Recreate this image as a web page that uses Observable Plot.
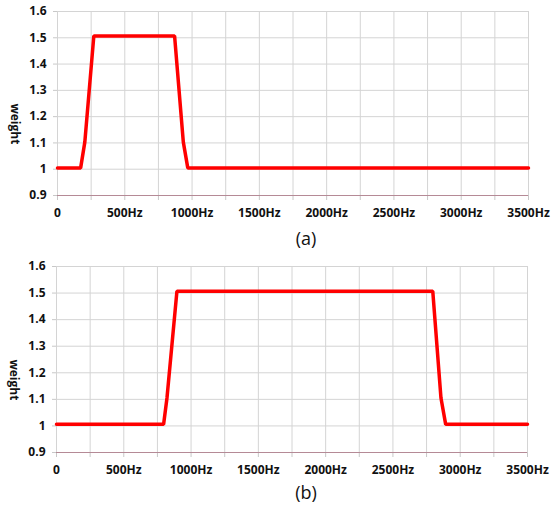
<!DOCTYPE html>
<html>
<head>
<meta charset="utf-8">
<script src="https://cdn.jsdelivr.net/npm/d3@7"></script>
<script src="https://cdn.jsdelivr.net/npm/@observablehq/plot@0.6"></script>
<style>
  html, body { margin: 0; padding: 0; background: #fff; }
  #root { position: relative; width: 556px; height: 507px; font-family: "Open Sans", sans-serif; }
  .panel { position: absolute; left: 0; }
  .cap { position: absolute; font-size: 18px; color: #111; transform: translate(-50%, -50%); }
</style>
</head>
<body>
<div id="root"></div>
<script>
// ---- data ----
const xTicks = [0, 500, 1000, 1500, 2000, 2500, 3000, 3500];
const xTickLabels = ["0", "500Hz", "1000Hz", "1500Hz", "2000Hz", "2500Hz", "3000Hz", "3500Hz"];
const xMinorStep = 250;
const yTicks = [0.9, 1.0, 1.1, 1.2, 1.3, 1.4, 1.5, 1.6];
const yTickLabels = ["0.9", "1", "1.1", "1.2", "1.3", "1.4", "1.5", "1.6"];
const yLabel = "weight";

const aFreq   = [0, 172, 203, 270, 870, 935, 968, 3500];
const aWeight = [1.005, 1.005, 1.103, 1.507, 1.507, 1.103, 1.005, 1.005];

const bFreq   = [0, 796, 821, 895, 2796, 2857, 2892, 3500];
const bWeight = [1.006, 1.006, 1.105, 1.507, 1.507, 1.105, 1.006, 1.006];

const captions = ["(a)", "(b)"];

// ---- drawing ----
const root = document.getElementById("root");
const xDomain = [xTicks[0], xTicks[xTicks.length - 1]];
const yDomain = [yTicks[0], yTicks[yTicks.length - 1]];
const gridX = d3.range(xDomain[0], xDomain[1] + 1, xMinorStep);
const labelMap = new Map(xTicks.map((t, i) => [t, xTickLabels[i]]));
const yLabelMap = new Map(yTicks.map((t, i) => [Math.round(t * 10), yTickLabels[i]]));

function panel(freq, weight, opts) {
  const data = freq.map((f, i) => ({f, w: weight[i]}));
  const svg = Plot.plot({
    width: 556,
    height: 225,
    marginTop: opts.mt,
    marginBottom: opts.mb,
    marginLeft: opts.ml,
    marginRight: opts.mr,
    style: {fontFamily: "'Open Sans', sans-serif", fontSize: "12px", fontWeight: "bold", color: "#111", background: "#fff", overflow: "visible"},
    x: {domain: xDomain},
    y: {domain: yDomain},
    marks: [
      Plot.gridX(gridX, {stroke: "#d4d4d4", strokeOpacity: 1, strokeWidth: 1}),
      Plot.gridY(yTicks, {stroke: "#d4d4d4", strokeOpacity: 1, strokeWidth: 1}),
      Plot.axisX(gridX, {tickSize: 5, tickPadding: 8, stroke: "#c8c8c8", fill: "#111", fontSize: 12,
        tickFormat: d => labelMap.has(d) ? labelMap.get(d) : "", label: null}),
      Plot.axisY(yTicks, {tickSize: 4, tickPadding: 7, stroke: "#c8c8c8", fill: "#111", fontSize: 12,
        tickFormat: d => yLabelMap.get(Math.round(d * 10)), label: null}),
      Plot.ruleY([yDomain[0]], {stroke: "#b58a96", strokeWidth: 1.2}),
      Plot.line(data, {x: "f", y: "w", stroke: "#ff0000", strokeWidth: 3.5, strokeLinejoin: "miter", curve: "linear"}),
      Plot.text([yLabel], {frameAnchor: "left", dx: -43, rotate: 90, text: d => d, fontSize: 12, fontWeight: "bold", fill: "#111"})
    ]
  });
  svg.classList.add("panel");
  svg.style.top = opts.top + "px";
  root.appendChild(svg);
  const cap = document.createElement("div");
  cap.className = "cap";
  cap.textContent = opts.caption;
  cap.style.left = opts.capX + "px";
  cap.style.top = opts.capY + "px";
  root.appendChild(cap);
}

panel(aFreq, aWeight, {top: 0, mt: 11, mb: 30, ml: 57, mr: 28, caption: captions[0], capX: 306, capY: 238});
panel(bFreq, bWeight, {top: 255, mt: 11, mb: 28, ml: 56, mr: 29, caption: captions[1], capX: 306, capY: 492});
</script>
</body>
</html>
